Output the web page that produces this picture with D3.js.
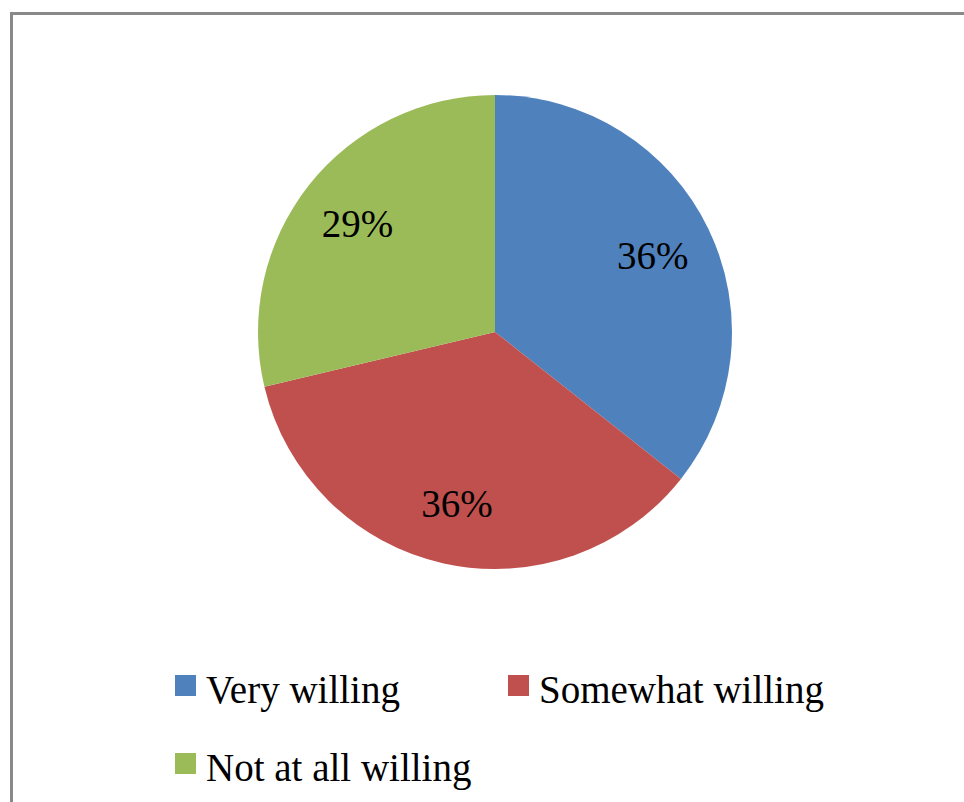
<!DOCTYPE html>
<html>
<head>
<meta charset="utf-8">
<script src="https://cdn.jsdelivr.net/npm/d3@7"></script>
<style>
  html, body { margin: 0; padding: 0; background: #ffffff; }
  svg { display: block; }
</style>
</head>
<body>
<svg id="chart" width="964" height="802"></svg>
<script>
// Willingness shares, in clockwise order from 12 o'clock
const categories = ["Very willing", "Somewhat willing", "Not at all willing"];
const shares = [36, 36, 29];
const colors = ["#4F81BD", "#C0504D", "#9BBB59"];

const width = 964, height = 802;
const font = "'Liberation Serif', 'Times New Roman', serif";
const svg = d3.select("#chart");

// Chart area frame (runs past the right and bottom edges)
svg.append("rect")
  .attr("x", 11.5).attr("y", 13.5)
  .attr("width", 1000).attr("height", 1000)
  .attr("fill", "none")
  .attr("stroke", "#898989")
  .attr("stroke-width", 3);

// Pie
const cx = 495, cy = 332, radius = 237;
const pie = d3.pie().sort(null).value(d => d)(shares);
const arc = d3.arc().innerRadius(0).outerRadius(radius);
const labelArc = d3.arc().innerRadius(radius * 0.74).outerRadius(radius * 0.74);

const g = svg.append("g").attr("transform", `translate(${cx},${cy})`);
g.selectAll("path.slice")
  .data(pie)
  .join("path")
  .attr("class", "slice")
  .attr("d", arc)
  .attr("fill", (d, i) => colors[i]);

g.selectAll("text.pct")
  .data(pie)
  .join("text")
  .attr("class", "pct")
  .attr("transform", d => {
    const [x, y] = labelArc.centroid(d);
    return `translate(${x},${y})`;
  })
  .attr("dy", "0.35em")
  .attr("text-anchor", "middle")
  .attr("font-family", font)
  .attr("font-size", 39)
  .attr("fill", "#000")
  .text(d => d.data + "%");

// Legend: two columns, wrapping to a second row
const legendCols = [175, 508];
const legendRowY = [675, 753];
const sw = 21;
const legend = svg.append("g");
const items = legend.selectAll("g.item")
  .data(categories)
  .join("g")
  .attr("class", "item")
  .attr("transform", (d, i) => `translate(${legendCols[i % 2]},${legendRowY[Math.floor(i / 2)]})`);
items.append("rect")
  .attr("width", sw).attr("height", sw)
  .attr("fill", (d, i) => colors[i]);
items.append("text")
  .attr("x", 31)
  .attr("y", 28)
  .attr("font-family", font)
  .attr("font-size", 39)
  .attr("fill", "#000")
  .text(d => d);
</script>
</body>
</html>
